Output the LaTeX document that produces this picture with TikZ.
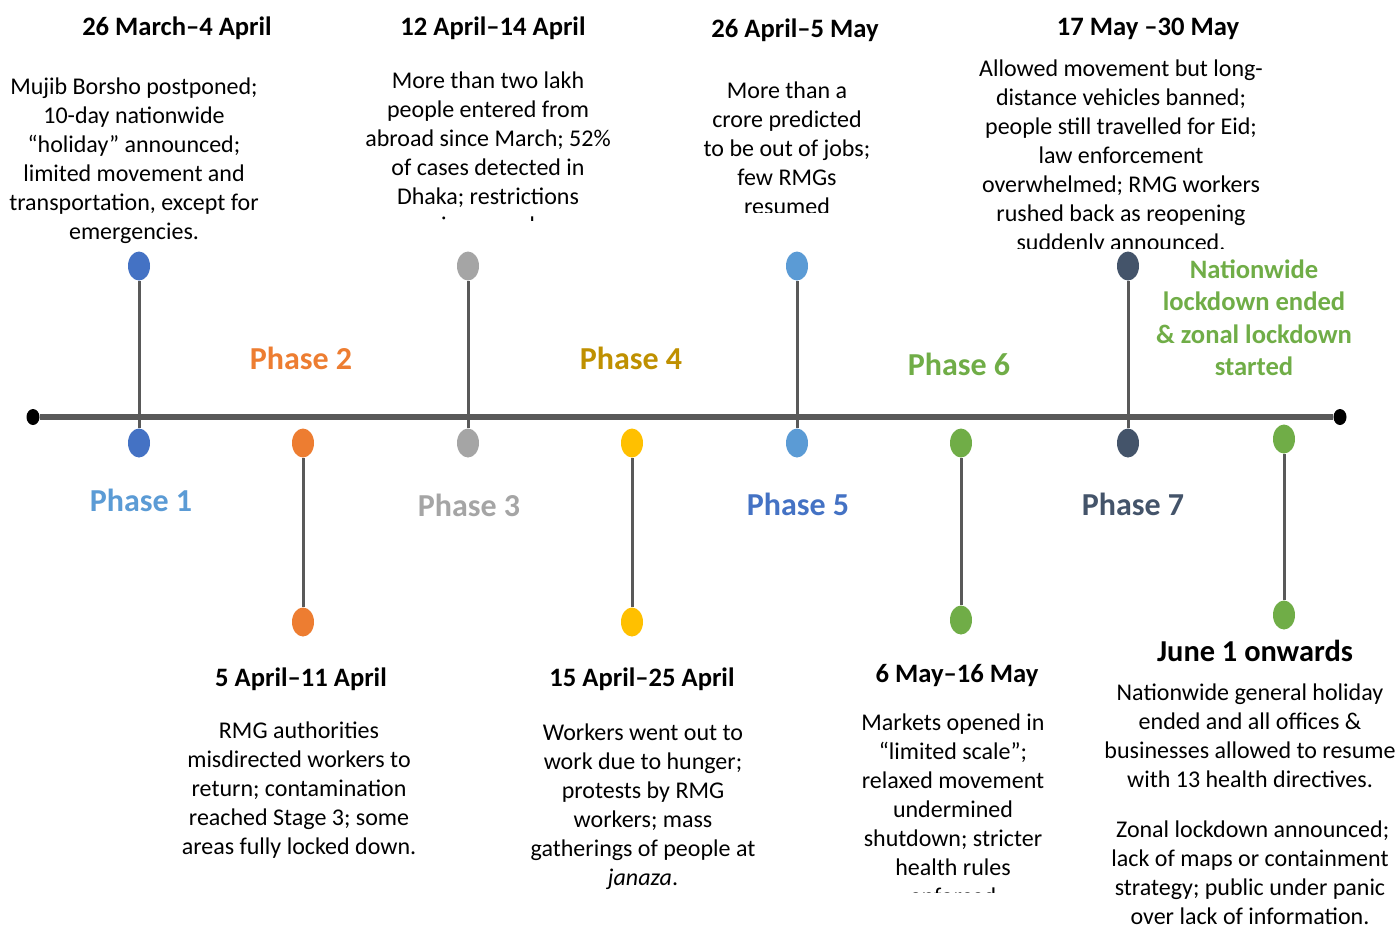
\documentclass[tikz,border=0pt]{standalone}
\usepackage{fontspec}
\setmainfont{Carlito}
\usetikzlibrary{shapes.geometric}

\definecolor{axisgray}{HTML}{595959}
\definecolor{pblue}{HTML}{4472C4}
\definecolor{plight}{HTML}{5B9BD5}
\definecolor{porange}{HTML}{ED7D31}
\definecolor{pgray}{HTML}{A5A5A5}
\definecolor{pgold}{HTML}{FFC000}
\definecolor{pdarkgold}{HTML}{BF9000}
\definecolor{pgreen}{HTML}{70AD47}
\definecolor{pslate}{HTML}{44546A}

\tikzset{
  phasedot/.style={ellipse,fill=#1,inner sep=0pt,minimum width=11pt,minimum height=14.5pt},
  enddot/.style={ellipse,fill=black,inner sep=0pt,minimum width=6.5pt,minimum height=8pt},
  stemline/.style={axisgray,line width=1.5pt},
  datetitle/.style={anchor=base,font=\fontsize{13.3}{16}\selectfont\bfseries,inner sep=0pt},
  eventtext/.style={anchor=north,align=center,font=\fontsize{12}{14.5}\selectfont,inner sep=0pt},
  phaselabel/.style={anchor=base,font=\fontsize{16}{19}\selectfont\bfseries,text=#1,inner sep=0pt},
}

\begin{document}
\begin{tikzpicture}[x=0.5pt,y=-0.5pt]
  \useasboundingbox (0,0) rectangle (1399,928);

  % axis
  \node[enddot] (start) at (33,417) {};
  \node[enddot] (stop) at (1340,417) {};
  \draw[axisgray,line width=3pt] (start) -- (stop);

  % phase 1
  \node[phasedot=pblue] (p1top) at (139,266) {};
  \node[phasedot=pblue] (p1bot) at (139,443) {};
  \draw[stemline] (p1top) -- (p1bot);
  \node[phaselabel=plight] (p1lab) at (141,511) {Phase 1};
  \node[datetitle] (p1date) at (177,35) {26 March--4 April};
  \node[eventtext] (p1text) at (134,77) {Mujib Borsho postponed;\\10-day nationwide\\``holiday'' announced;\\limited movement and\\transportation, except for\\emergencies.};

  % phase 2
  \node[phasedot=porange] (p2top) at (303,443) {};
  \node[phasedot=porange] (p2bot) at (303,622) {};
  \draw[stemline] (p2top) -- (p2bot);
  \node[phaselabel=porange] (p2lab) at (301,369) {Phase 2};
  \node[datetitle] (p2date) at (301,686) {5 April--11 April};
  \node[eventtext] (p2text) at (299,721) {RMG authorities\\misdirected workers to\\return; contamination\\reached Stage 3; some\\areas fully locked down.};

  % phase 3
  \node[phasedot=pgray] (p3top) at (468,266) {};
  \node[phasedot=pgray] (p3bot) at (468,443) {};
  \draw[stemline] (p3top) -- (p3bot);
  \node[phaselabel=pgray] (p3lab) at (469,516) {Phase 3};
  \node[datetitle] (p3date) at (493,35) {12 April--14 April};
  \begin{scope}
    \clip (340,40) rectangle (640,220);
    \node[eventtext] (p3text) at (488,71) {More than two lakh\\people entered from\\abroad since March; 52\%\\of cases detected in\\Dhaka; restrictions\\increased};
  \end{scope}

  % phase 4
  \node[phasedot=pgold] (p4top) at (632,443) {};
  \node[phasedot=pgold] (p4bot) at (632,622) {};
  \draw[stemline] (p4top) -- (p4bot);
  \node[phaselabel=pdarkgold] (p4lab) at (631,369) {Phase 4};
  \node[datetitle] (p4date) at (642,686) {15 April--25 April};
  \node[eventtext] (p4text) at (643,723) {Workers went out to\\work due to hunger;\\protests by RMG\\workers; mass\\gatherings of people at\\\textit{janaza}.};

  % phase 5
  \node[phasedot=plight] (p5top) at (797,266) {};
  \node[phasedot=plight] (p5bot) at (797,443) {};
  \draw[stemline] (p5top) -- (p5bot);
  \node[phaselabel=pblue] (p5lab) at (798,515) {Phase 5};
  \node[datetitle] (p5date) at (795,37) {26 April--5 May};
  \begin{scope}
    \clip (680,50) rectangle (900,212);
    \node[eventtext] (p5text) at (787,81) {More than a\\crore predicted\\to be out of jobs;\\few RMGs\\resumed};
  \end{scope}

  % phase 6
  \node[phasedot=pgreen] (p6top) at (961,443) {};
  \node[phasedot=pgreen] (p6bot) at (961,620) {};
  \draw[stemline] (p6top) -- (p6bot);
  \node[phaselabel=pgreen] (p6lab) at (959,375) {Phase 6};
  \node[datetitle] (p6date) at (957,682) {6 May--16 May};
  \begin{scope}
    \clip (840,690) rectangle (1080,892);
    \node[eventtext] (p6text) at (953,713) {Markets opened in\\``limited scale'';\\relaxed movement\\undermined\\shutdown; stricter\\health rules\\enforced};
  \end{scope}

  % phase 7
  \node[phasedot=pslate] (p7top) at (1128,266) {};
  \node[phasedot=pslate] (p7bot) at (1128,443) {};
  \draw[stemline] (p7top) -- (p7bot);
  \node[phaselabel=pslate] (p7lab) at (1133,515) {Phase 7};
  \node[datetitle] (p7date) at (1148,35) {17 May --30 May};
  \begin{scope}
    \clip (960,45) rectangle (1290,248);
    \node[eventtext] (p7text) at (1121,59) {Allowed movement but long-\\distance vehicles banned;\\people still travelled for Eid;\\law enforcement\\overwhelmed; RMG workers\\rushed back as reopening\\suddenly announced.};
  \end{scope}

  % june onwards
  \node[phasedot=pgreen] (p8top) at (1284,439) {};
  \node[phasedot=pgreen] (p8bot) at (1284,615) {};
  \draw[stemline] (p8top) -- (p8bot);
  \node[anchor=north,align=center,inner sep=0pt,text=pgreen,font=\fontsize{13.3}{16.25}\selectfont\bfseries] (p8lab) at (1254,259) {Nationwide\\lockdown ended\\\& zonal lockdown\\started};
  \node[anchor=base,inner sep=0pt,font=\fontsize{15.2}{18}\selectfont\bfseries] (p8date) at (1255,661) {June 1 onwards};
  \node[eventtext] (p8text) at (1250,683) {Nationwide general holiday\\ended and all offices \&\\businesses allowed to resume\\with 13 health directives.\\[10.5pt]
    \ Zonal lockdown announced;\\lack of maps or containment\\strategy; public under panic\\over lack of information.};

\end{tikzpicture}
\end{document}
